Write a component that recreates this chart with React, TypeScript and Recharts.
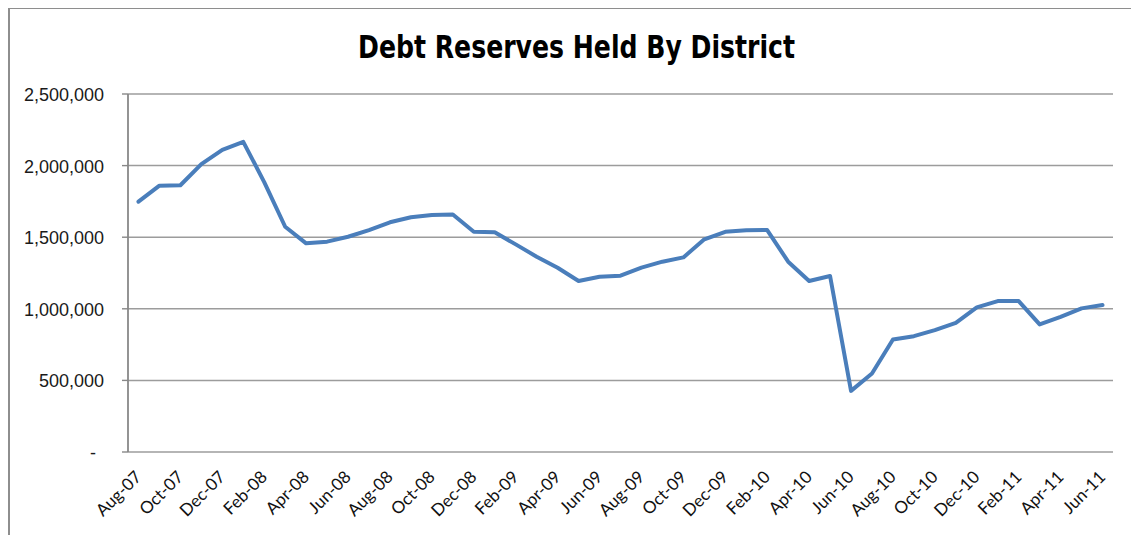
import React from 'react';
import { LineChart, Line, XAxis, YAxis, CartesianGrid } from 'recharts';

const title = 'Debt Reserves Held By District';

const months = [
  'Aug-07', 'Sep-07', 'Oct-07', 'Nov-07', 'Dec-07', 'Jan-08', 'Feb-08', 'Mar-08',
  'Apr-08', 'May-08', 'Jun-08', 'Jul-08', 'Aug-08', 'Sep-08', 'Oct-08', 'Nov-08',
  'Dec-08', 'Jan-09', 'Feb-09', 'Mar-09', 'Apr-09', 'May-09', 'Jun-09', 'Jul-09',
  'Aug-09', 'Sep-09', 'Oct-09', 'Nov-09', 'Dec-09', 'Jan-10', 'Feb-10', 'Mar-10',
  'Apr-10', 'May-10', 'Jun-10', 'Jul-10', 'Aug-10', 'Sep-10', 'Oct-10', 'Nov-10',
  'Dec-10', 'Jan-11', 'Feb-11', 'Mar-11', 'Apr-11', 'May-11', 'Jun-11',
];

const reserves = [
  1748000, 1860000, 1863000, 2010000, 2110000, 2166000, 1885000, 1573000,
  1457000, 1469000, 1503000, 1550000, 1604000, 1639000, 1655000, 1658000,
  1538000, 1534000, 1450000, 1364000, 1287000, 1194000, 1224000, 1231000,
  1287000, 1329000, 1359000, 1485000, 1538000, 1548000, 1550000, 1329000,
  1194000, 1229000, 427000, 548000, 786000, 809000, 851000, 902000,
  1010000, 1054000, 1054000, 891000, 944000, 1003000, 1026000,
];

const yTicks = [0, 500000, 1000000, 1500000, 2000000, 2500000];

// labels every second month, tick marks on the category boundaries before them
const labelTicks = months.map((_, i) => i).filter((i) => i % 2 === 0);
const boundaryTicks = labelTicks.map((i) => i - 0.5);

const data = months.map((m, i) => ({ idx: i, month: m, value: reserves[i] }));

const AXIS = '#888888';
const GRID = '#9c9c9c';

const YTick = (props: any) => {
  const { x, y, payload } = props;
  const v = payload.value as number;
  const label = v === 0 ? '-' : v.toLocaleString('en-US');
  return (
    <text
      x={v === 0 ? x - 8 : x}
      y={y}
      dy={7}
      textAnchor="end"
      fontSize={18}
      fill="#1a1a1a"
      fontFamily="'Liberation Sans', Arial, sans-serif"
    >
      {label}
    </text>
  );
};

const XTick = (props: any) => {
  const { x, y, payload } = props;
  return (
    <text
      transform={`translate(${x + 4},${y + 26}) rotate(-45)`}
      textAnchor="end"
      fontSize={17}
      fill="#111"
      fontFamily="Lato, 'Open Sans', sans-serif"
    >
      {months[payload.value]}
    </text>
  );
};

export default function App() {
  return (
    <div style={{ position: 'relative', width: 1131, height: 527 }}>
      <svg
        width={1131}
        height={70}
        style={{ position: 'absolute', left: 0, top: 0, overflow: 'visible' }}
      >
        <text
          x={350}
          y={50}
          textLength={437}
          lengthAdjust="spacingAndGlyphs"
          fontSize={32}
          fontWeight="bold"
          fill="#000"
          fontFamily="'Liberation Sans Narrow', 'DejaVu Sans Condensed', 'Liberation Sans', sans-serif"
        >
          {title}
        </text>
      </svg>
      <div style={{ position: 'absolute', left: 0, top: 0 }}>
        <LineChart
          width={1131}
          height={527}
          data={data}
          margin={{ top: 86, right: 26, bottom: 23, left: 0 }}
        >
          <CartesianGrid
            horizontal
            vertical={false}
            stroke={GRID}
            strokeWidth={1.5}
          />
          <XAxis
            xAxisId="marks"
            dataKey="idx"
            type="number"
            domain={[-0.5, months.length - 0.5]}
            ticks={boundaryTicks}
            interval={0}
            height={0}
            tick={false}
            tickSize={5}
            tickLine={{ stroke: AXIS, strokeWidth: 1.4 }}
            axisLine={{ stroke: AXIS, strokeWidth: 1.8 }}
          />
          <XAxis
            xAxisId="labels"
            dataKey="idx"
            type="number"
            domain={[-0.5, months.length - 0.5]}
            ticks={labelTicks}
            interval={0}
            height={60}
            tickSize={0}
            tickMargin={0}
            tickLine={false}
            axisLine={false}
            tick={<XTick />}
          />
          <YAxis
            width={120}
            domain={[0, 2500000]}
            ticks={yTicks}
            interval={0}
            tickSize={6}
            tickMargin={18}
            tickLine={{ stroke: AXIS, strokeWidth: 1.4 }}
            axisLine={{ stroke: AXIS, strokeWidth: 1.8 }}
            tick={<YTick />}
          />
          <Line
            xAxisId="marks"
            type="linear"
            dataKey="value"
            stroke="#4a7ebb"
            strokeWidth={4}
            strokeLinejoin="round"
            strokeLinecap="round"
            dot={false}
            activeDot={false}
            isAnimationActive={false}
          />
        </LineChart>
      </div>
      <div
        style={{
          position: 'absolute',
          left: 0,
          top: -1,
          width: 1131,
          height: 528,
          borderLeft: '2px solid #8e8e8e',
          borderTop: '2px solid #8e8e8e',
          boxSizing: 'border-box',
          pointerEvents: 'none',
        }}
      />
    </div>
  );
}
